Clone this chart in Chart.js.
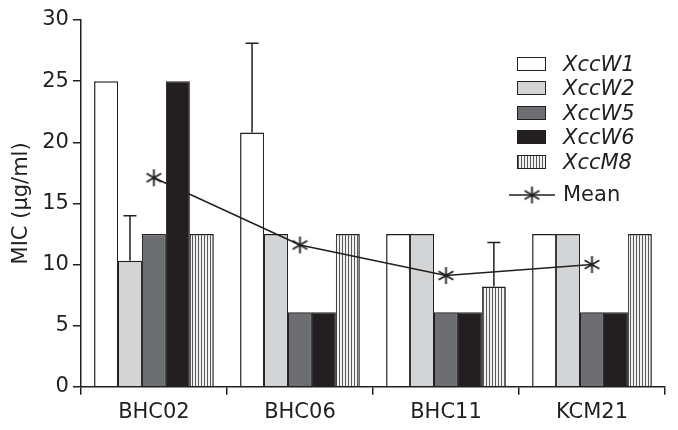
<!DOCTYPE html>
<html>
<head>
<meta charset="utf-8">
<script src="https://cdn.jsdelivr.net/npm/chart.js@4.4.0/dist/chart.umd.min.js"></script>
<style>
body { margin: 0; background: #fff; }
#wrap { position: relative; width: 678px; height: 430px; }
#legend { position: absolute; left: 0; top: 0; font-family: "DejaVu Sans", sans-serif; font-size: 21px; color: #231f20; }
.lrow { position: absolute; left: 0; height: 24px; white-space: nowrap; }
.sw { position: absolute; width: 27px; height: 12px; border: 1.5px solid #231f20; }
.lt { position: absolute; left: 563px; line-height: 21px; }
</style>
</head>
<body>
<div id="wrap">
  <canvas id="chart" width="678" height="430"></canvas>
  <div id="legend"></div>
</div>
<script>
/* ============= Data: ============= */
var categories = ['BHC02', 'BHC06', 'BHC11', 'KCM21'];
var strainNames = ['XccW1', 'XccW2', 'XccW5', 'XccW6', 'XccM8'];
var valW1 = [25, 20.8, 12.5, 12.5];
var valW2 = [10.3, 12.5, 12.5, 12.5];
var valW5 = [12.5, 6.1, 6.1, 6.1];
var valW6 = [25, 6.1, 6.1, 6.1];
var valM8 = [12.5, 12.5, 8.2, 12.5];
// upward error bars (only a few bars have them)
var errW1 = [0, 7.3, 0, 0];
var errW2 = [3.7, 0, 0, 0];
var errM8 = [0, 0, 3.6, 0];
var meanVals = [17.1, 11.6, 9.1, 10.0];
var yTicks = [0, 5, 10, 15, 20, 25, 30];

var ink = '#231f20';
var fontFam = '"DejaVu Sans", sans-serif';

/* ============= Helpers: ============= */
function makeStripes() {
	var pc = document.createElement('canvas');
	pc.width = 3; pc.height = 4;
	var p = pc.getContext('2d');
	p.fillStyle = '#f2f2f2';
	p.fillRect(0, 0, 3, 4);
	p.fillStyle = '#5a5a5a';
	p.fillRect(0, 0, 1, 4);
	return document.getElementById('chart').getContext('2d').createPattern(pc, 'repeat');
}

// six-armed asterisk like the one in the figure
function makeStar(size) {
	var c = document.createElement('canvas');
	c.width = size; c.height = size;
	var x = c.getContext('2d');
	x.strokeStyle = ink;
	x.lineWidth = 1.8;
	var r = size / 2 - 1, cx = size / 2;
	x.beginPath();
	for (var a = 0; a < 3; a++) {
		var ang = Math.PI / 2 + a * Math.PI / 3;
		x.moveTo(cx + r * Math.cos(ang), cx + r * Math.sin(ang));
		x.lineTo(cx - r * Math.cos(ang), cx - r * Math.sin(ang));
	}
	x.stroke();
	return c;
}

var stripes = makeStripes();
var fills = ['#ffffff', '#d3d4d5', '#6d6e71', ink, stripes];
var seriesVals = [valW1, valW2, valW5, valW6, valM8];
var seriesErr = [errW1, errW2, null, null, errM8];

var errorBarPlugin = {
	id: 'errorBars',
	afterDatasetsDraw: function (chart) {
		var ctx = chart.ctx, yScale = chart.scales.y;
		chart.data.datasets.forEach(function (ds, i) {
			if (!ds.errors) return;
			var meta = chart.getDatasetMeta(i);
			meta.data.forEach(function (bar, j) {
				var e = ds.errors[j];
				if (!e) return;
				var top = yScale.getPixelForValue(ds.data[j] + e);
				ctx.save();
				ctx.strokeStyle = ink;
				ctx.lineWidth = 1.5;
				ctx.beginPath();
				ctx.moveTo(bar.x, bar.y);
				ctx.lineTo(bar.x, top);
				ctx.moveTo(bar.x - 6.5, top);
				ctx.lineTo(bar.x + 6.5, top);
				ctx.stroke();
				ctx.restore();
			});
		});
	}
};

/* ============= Chart: ============= */
var datasets = [];
for (var i = 0; i < strainNames.length; i++) {
	datasets.push({
		type: 'bar',
		label: strainNames[i],
		data: seriesVals[i],
		errors: seriesErr[i],
		backgroundColor: fills[i],
		borderColor: ink,
		// neighbouring bars share one edge line
		borderWidth: { top: 1.5, left: i === 0 ? 1.5 : 1, right: i === strainNames.length - 1 ? 1.5 : 1, bottom: 0 },
		borderSkipped: false,
		barPercentage: 1.0,
		categoryPercentage: 0.82,
		order: 1
	});
}
datasets.push({
	type: 'line',
	label: 'Mean',
	data: meanVals,
	borderColor: ink,
	borderWidth: 1.5,
	pointStyle: makeStar(19),
	pointRadius: 9,
	tension: 0,
	order: 0
});

var ctx = document.getElementById('chart').getContext('2d');
var myChart = new Chart(ctx, {
	type: 'bar',
	data: { labels: categories, datasets: datasets },
	plugins: [errorBarPlugin],
	options: {
		responsive: false,
		animation: false,
		devicePixelRatio: 1,
		layout: { padding: { left: 5, right: 13, top: 20, bottom: 0 } },
		plugins: { legend: { display: false }, tooltip: { enabled: false } },
		scales: {
			x: {
				offset: true,
				border: { color: ink, width: 1.5 },
				grid: { drawOnChartArea: false, drawTicks: true, tickLength: 8, color: ink, lineWidth: 1.5, offset: true },
				ticks: { color: ink, font: { family: fontFam, size: 21 }, padding: 5 }
			},
			y: {
				min: 0, max: 30,
				afterBuildTicks: function (axis) { axis.ticks = yTicks.map(function (v) { return { value: v }; }); },
				border: { color: ink, width: 1.5 },
				grid: { drawOnChartArea: false, drawTicks: true, tickLength: 8, color: ink, lineWidth: 1.5 },
				ticks: { color: ink, font: { family: fontFam, size: 21 }, padding: 4 },
				title: { display: true, text: 'MIC (μg/ml)', color: ink, font: { family: fontFam, size: 21 }, padding: { top: 4, bottom: 4 } }
			}
		}
	}
});

/* ============= Legend (html): ============= */
function buildLegend() {
	var legend = document.getElementById('legend');
	var swatchCss = ['#ffffff', '#d3d4d5', '#6d6e71', ink, 'repeating-linear-gradient(to right, #5a5a5a 0 1px, #f2f2f2 1px 3px)'];
	var top0 = 57, step = 24.4;
	for (var i = 0; i < strainNames.length; i++) {
		var row = document.createElement('div');
		row.className = 'lrow';
		row.style.top = (top0 + i * step) + 'px';
		var sw = document.createElement('div');
		sw.className = 'sw';
		sw.style.left = '517px';
		sw.style.top = '0px';
		sw.style.background = swatchCss[i];
		var t = document.createElement('div');
		t.className = 'lt';
		t.style.top = '-3px';
		t.style.fontStyle = 'italic';
		t.textContent = strainNames[i];
		row.appendChild(sw);
		row.appendChild(t);
		legend.appendChild(row);
	}
	var mrow = document.createElement('div');
	mrow.className = 'lrow';
	mrow.style.top = '185px';
	var mc = document.createElement('canvas');
	mc.width = 46; mc.height = 20;
	mc.style.position = 'absolute';
	mc.style.left = '509px';
	mc.style.top = '0px';
	var m = mc.getContext('2d');
	m.strokeStyle = ink; m.lineWidth = 1.5;
	m.beginPath(); m.moveTo(0, 10); m.lineTo(46, 10); m.stroke();
	m.drawImage(makeStar(19), 23 - 9.5, 0.5);
	var mt = document.createElement('div');
	mt.className = 'lt';
	mt.style.top = '-1px';
	mt.textContent = 'Mean';
	mrow.appendChild(mc);
	mrow.appendChild(mt);
	legend.appendChild(mrow);
}

buildLegend();
</script>
</body>
</html>
